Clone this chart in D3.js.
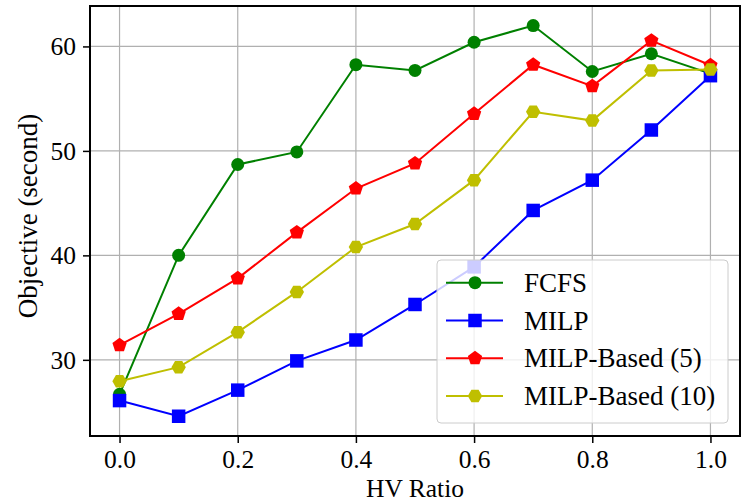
<!DOCTYPE html>
<html>
<head>
<meta charset="utf-8">
<script src="https://cdn.jsdelivr.net/npm/d3@7"></script>
<style>
  body { margin: 0; background: #fff; }
  svg text { font-family: 'Liberation Serif', 'Times New Roman', serif; fill: #000; }
</style>
</head>
<body>
<div id="chart"></div>
<script>
const width = 744;
const height = 503;
const margin = {top: 6, right: 4, bottom: 67, left: 90};

// data
const ratios = [0.0, 0.1, 0.2, 0.3, 0.4, 0.5, 0.6, 0.7, 0.8, 0.9, 1.0];
const fcfs = [26.7, 40.0, 48.7, 49.9, 58.25, 57.7, 60.4, 62.0, 57.6, 59.3, 57.4];
const milp = [26.1, 24.6, 27.1, 29.9, 31.9, 35.3, 38.9, 44.3, 47.2, 52.0, 57.2];
const milpBased5 = [31.4, 34.4, 37.8, 42.2, 46.4, 48.8, 53.55, 58.25, 56.2, 60.55, 58.2];
const milpBased10 = [27.95, 29.3, 32.65, 36.5, 40.8, 43.0, 47.2, 53.75, 52.9, 57.7, 57.8];
const xTicks = [0.0, 0.2, 0.4, 0.6, 0.8, 1.0];
const yTicks = [30, 40, 50, 60];

const series = [
  {name: 'FCFS', values: fcfs, color: 'green', marker: 'circle'},
  {name: 'MILP', values: milp, color: 'blue', marker: 'square'},
  {name: 'MILP-Based (5)', values: milpBased5, color: 'red', marker: 'pentagon'},
  {name: 'MILP-Based (10)', values: milpBased10, color: '#bfbf00', marker: 'hexagon'}
];

const svg = d3.select('#chart')
  .append('svg')
  .attr('width', width)
  .attr('height', height);

const x = d3.scaleLinear()
  .domain([-0.05, 1.05])
  .range([margin.left, width - margin.right]);

const y = d3.scaleLinear()
  .domain([22.71, 63.87])
  .range([height - margin.bottom, margin.top]);

// grid
svg.append('g')
  .selectAll('line')
  .data(xTicks)
  .enter().append('line')
  .attr('x1', d => x(d)).attr('x2', d => x(d))
  .attr('y1', margin.top).attr('y2', height - margin.bottom)
  .attr('stroke', '#b0b0b0').attr('stroke-width', 1.2);

svg.append('g')
  .selectAll('line')
  .data(yTicks)
  .enter().append('line')
  .attr('x1', margin.left).attr('x2', width - margin.right)
  .attr('y1', d => y(d)).attr('y2', d => y(d))
  .attr('stroke', '#b0b0b0').attr('stroke-width', 1.2);

// axes
const xAxis = svg.append('g')
  .attr('transform', 'translate(0,' + (height - margin.bottom) + ')')
  .call(d3.axisBottom(x).tickValues(xTicks).tickFormat(d3.format('.1f')).tickSize(7));

const yAxis = svg.append('g')
  .attr('transform', 'translate(' + margin.left + ',0)')
  .call(d3.axisLeft(y).tickValues(yTicks).tickFormat(d3.format('d')).tickSize(7).tickPadding(7));

[xAxis, yAxis].forEach(a => {
  a.attr('font-family', null).attr('font-size', null);
  a.select('.domain').remove();
  a.selectAll('.tick line').attr('stroke', '#000').attr('stroke-width', 1.5);
  a.selectAll('.tick text')
    .attr('fill', '#000')
    .style('font-size', '25.5px');
});
xAxis.selectAll('.tick text').attr('y', 32).attr('dy', 0);

// frame
svg.append('rect')
  .attr('x', margin.left)
  .attr('y', margin.top)
  .attr('width', width - margin.left - margin.right)
  .attr('height', height - margin.top - margin.bottom)
  .attr('fill', 'none')
  .attr('stroke', '#000')
  .attr('stroke-width', 2);

// axis labels
svg.append('text')
  .attr('x', (margin.left + width - margin.right) / 2)
  .attr('y', 497)
  .attr('text-anchor', 'middle')
  .style('font-size', '25.5px')
  .text('HV Ratio');

svg.append('text')
  .attr('transform', 'translate(37,216) rotate(-90)')
  .attr('text-anchor', 'middle')
  .style('font-size', '27px')
  .text('Objective (second)');

function markerPath(type) {
  if (type === 'circle') return d3.symbol().type(d3.symbolCircle).size(Math.PI * 6.5 * 6.5)();
  if (type === 'square') return d3.symbol().type(d3.symbolSquare).size(13.5 * 13.5)();
  const n = type === 'pentagon' ? 5 : 6;
  const r = type === 'pentagon' ? 7.5 : 7.2;
  const off = type === 'pentagon' ? -Math.PI / 2 : 0;
  const pts = d3.range(n).map(i => {
    const a = off + i * 2 * Math.PI / n;
    return [r * Math.cos(a), r * Math.sin(a)];
  });
  return 'M' + pts.map(p => p.join(',')).join('L') + 'Z';
}

const line = d3.line()
  .x(d => x(d[0]))
  .y(d => y(d[1]));

const plot = svg.append('g');

for (let s of series) {
  const pts = ratios.map((r, i) => [r, s.values[i]]);
  plot.append('path')
    .datum(pts)
    .attr('d', line)
    .attr('fill', 'none')
    .attr('stroke', s.color)
    .attr('stroke-width', 2);

  plot.append('g')
    .selectAll('path')
    .data(pts)
    .enter().append('path')
    .attr('transform', d => 'translate(' + x(d[0]) + ',' + y(d[1]) + ')')
    .attr('d', markerPath(s.marker))
    .attr('fill', s.color);
}

// legend
const lg = svg.append('g').attr('transform', 'translate(437,260)');
lg.append('rect')
  .attr('width', 291)
  .attr('height', 163)
  .attr('rx', 4)
  .attr('fill', 'rgba(255,255,255,0.8)')
  .attr('stroke', '#cccccc')
  .attr('stroke-width', 1);

series.forEach((s, i) => {
  const row = lg.append('g').attr('transform', 'translate(0,' + (22.7 + i * 37.8) + ')');
  row.append('line')
    .attr('x1', 9).attr('x2', 66)
    .attr('stroke', s.color).attr('stroke-width', 2);
  row.append('path')
    .attr('transform', 'translate(38,0)')
    .attr('d', markerPath(s.marker))
    .attr('fill', s.color);
  row.append('text')
    .attr('x', 87)
    .attr('y', 9)
    .style('font-size', '27px')
    .text(s.name);
});
</script>
</body>
</html>
